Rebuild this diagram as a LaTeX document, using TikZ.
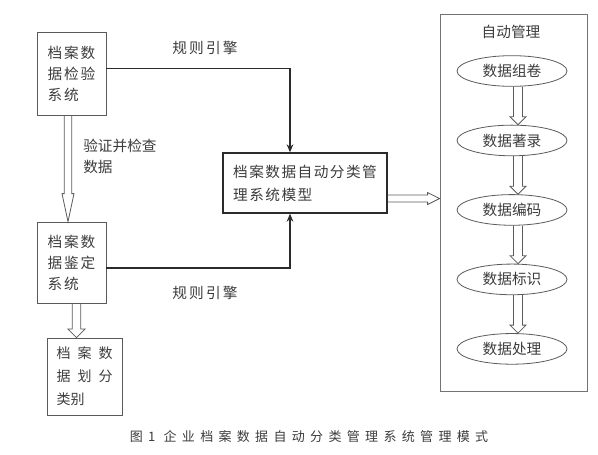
\documentclass[tikz,border=0pt]{standalone}
\usepackage{fontspec}
\setmainfont{Noto Sans CJK SC}
\usepackage{xcolor}
\definecolor{boxline}{HTML}{5A5A5A}
\definecolor{inkdark}{HTML}{2B2B2B}
\definecolor{textgray}{HTML}{3C3C3C}
\usepackage{tikz}
\usetikzlibrary{shapes.geometric,arrows.meta,positioning,calc}
\newcommand{\spreadcjk}[1]{{\addfontfeature{LetterSpace=50}#1}}
% hollow block arrows: start, end, shaft half width, head half width, head length
\newcommand{\blockdown}[5]{%
  \draw[harr] let \p1=(#1), \p2=(#2) in
    (\x1-#3,\y1) -- (\x1-#3,\y2+#5) -- (\x1-#4,\y2+#5) -- (\x1,\y2)
    -- (\x1+#4,\y2+#5) -- (\x1+#3,\y2+#5) -- (\x1+#3,\y1);}
\newcommand{\blockright}[5]{%
  \draw[harr] let \p1=(#1), \p2=(#2) in
    (\x1,\y1+#3) -- (\x2-#5,\y1+#3) -- (\x2-#5,\y1+#4) -- (\x2,\y1)
    -- (\x2-#5,\y1-#4) -- (\x2-#5,\y1-#3) -- (\x1,\y1-#3);}
\tikzset{
  sbox/.style={rectangle, draw=boxline, line width=0.6pt, text=textgray,
               align=left, inner sep=0pt,
               font=\fontsize{11}{15.75}\selectfont\addfontfeature{LetterSpace=12}},
  mbox/.style={rectangle, draw=inkdark, line width=1pt, text=textgray,
               align=left, inner sep=0pt,
               font=\fontsize{11}{17.25}\selectfont\addfontfeature{LetterSpace=10}},
  cbox/.style={rectangle, draw=boxline!85, line width=0.6pt, inner sep=0pt},
  ebox/.style={ellipse, draw=boxline, line width=0.6pt, text=textgray,
               minimum width=82.5pt, minimum height=23pt, inner sep=0pt,
               font=\fontsize{11}{13}\selectfont},
  ltext/.style={text=textgray, inner sep=0pt, align=left,
               font=\fontsize{11}{15.75}\selectfont},
  rarr/.style={-{Stealth[length=6pt,width=5pt]}, draw=inkdark, line width=0.9pt},
  harr/.style={draw=boxline, line width=0.6pt},
}
\begin{document}
\begin{tikzpicture}[x=0.75pt, y=-0.75pt]
  \useasboundingbox (0,0) rectangle (598,454);

  % left column
  \node[sbox, minimum width=51.75pt, minimum height=62.25pt] (chk) at (71.5,73.5) {档案数\\据检验\\系统};
  \node[sbox, minimum width=51.75pt, minimum height=60.75pt] (idt) at (71.5,262.5) {档案数\\据鉴定\\系统};
  \node[sbox, minimum width=56.25pt, minimum height=57.75pt,
        font=\fontsize{10.5}{17.25}\selectfont] (cls) at (84.5,376.5) {\spreadcjk{档案数}\\\spreadcjk{据划分}\\类别};
  \node[ltext, anchor=west] (verify) at (83,156.5) {验证并检查\\数据};

  % model
  \node[mbox, minimum width=123pt, minimum height=45pt] (model) at (305,183) {档案数据自动分类管\\理系统模型};
  \node[ltext, font=\fontsize{11}{13}\selectfont\addfontfeature{LetterSpace=15}] (rule1) at (205,48) {规则引擎};
  \node[ltext, font=\fontsize{11}{13}\selectfont\addfontfeature{LetterSpace=15}] (rule2) at (205,293) {规则引擎};

  % automatic management
  \node[cbox, minimum width=110.25pt, minimum height=282.75pt] (auto) at (513.5,202.5) {};
  \node[ltext] (autotitle) at (511,32) {自动管理};
  \node[ebox] (e1) at (512,71) {数据组卷};
  \node[ebox, below=28.5pt of e1] (e2) {数据著录};
  \node[ebox, below=28.5pt of e2] (e3) {数据编码};
  \node[ebox, below=28.5pt of e3] (e4) {数据标识};
  \node[ebox, below=28.5pt of e4] (e5) {数据处理};

  % connectors
  \draw[rarr] ($(chk.east)+(0,-5)$) -| ($(model.north)+(-15,0)$);
  \draw[rarr] ($(idt.east)+(0,5.5)$) -| ($(model.south)+(-15,0)$);
  \blockdown{$(chk.south)+(-3.5,0)$}{idt.north}{2.8pt}{4.5pt}{21pt}
  \blockdown{$(idt.south)+(5,0)$}{cls.north}{3.2pt}{6.4pt}{6.4pt}
  \blockright{$(model.east)+(0,15.5)$}{auto.west}{2.6pt}{4.5pt}{9pt}
  \foreach \a/\b in {e1/e2,e2/e3,e3/e4,e4/e5}{
    \blockdown{$(\a.south)+(6,0)$}{\b.north}{3.4pt}{6pt}{6pt}
  }

  \node[text=textgray, inner sep=0pt,
        font=\fontsize{9.75}{12}\selectfont\addfontfeature{LetterSpace=41}] (caption) at (309,437) {图1 企业档案数据自动分类管理系统管理模式};
\end{tikzpicture}
\end{document}
